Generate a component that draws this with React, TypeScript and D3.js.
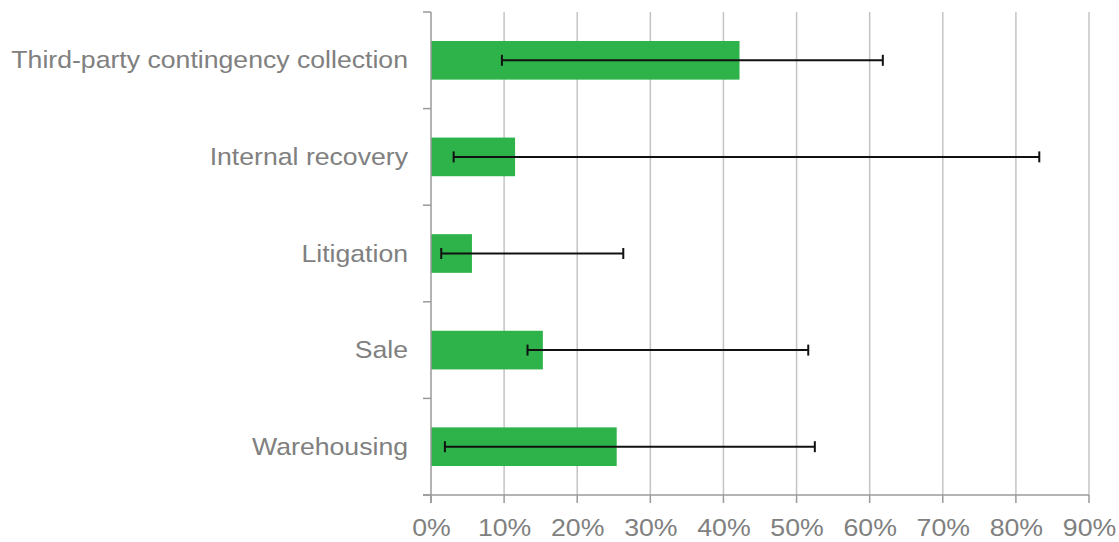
import React from "react";
import * as d3 from "d3";

const categories = [
  "Third-party contingency collection",
  "Internal recovery",
  "Litigation",
  "Sale",
  "Warehousing",
];
const values = [42.2, 11.5, 5.6, 15.3, 25.4];
const errLow = [9.7, 3.1, 1.4, 13.2, 1.9];
const errHigh = [61.8, 83.2, 26.3, 51.6, 52.5];
const xTicks = [0, 10, 20, 30, 40, 50, 60, 70, 80, 90];

const W = 1119;
const H = 542;
const M = { left: 431, right: 30, top: 12, bottom: 47 };

export default function App() {
  const x = d3.scaleLinear().domain([0, 90]).range([M.left, W - M.right]);
  const y = d3
    .scaleBand<string>()
    .domain(categories)
    .range([M.top, H - M.bottom])
    .paddingInner(0.6)
    .paddingOuter(0.3);
  const step = y.step();
  const bottom = H - M.bottom;
  const boundaries = d3.range(categories.length + 1).map((i) => M.top + i * step);
  const textColor = "#808080";
  const axisColor = "#9a9a9a";
  const gridColor = "#c4c4c4";
  const font = "'Liberation Sans', Arial, sans-serif";

  return (
    <svg
      width={W}
      height={H}
      style={{ position: "absolute", left: 0, top: 0, background: "#fff" }}
    >
      {/* grid lines */}
      {xTicks.slice(1).map((t) => (
        <line
          key={"g" + t}
          x1={x(t)}
          x2={x(t)}
          y1={M.top}
          y2={bottom}
          stroke={gridColor}
          strokeWidth={1.5}
        />
      ))}
      {/* bars */}
      {categories.map((c, i) => (
        <rect
          key={"b" + c}
          x={x(0)}
          y={y(c)}
          width={x(values[i]) - x(0)}
          height={y.bandwidth()}
          fill="#2EB34A"
        />
      ))}
      {/* y axis */}
      <line x1={x(0)} x2={x(0)} y1={M.top} y2={bottom + 8} stroke={axisColor} strokeWidth={1.5} />
      {boundaries.map((b, i) => (
        <line key={"yt" + i} x1={x(0) - 8} x2={x(0)} y1={b} y2={b} stroke={axisColor} strokeWidth={1.5} />
      ))}
      {/* x axis */}
      <line x1={x(0) - 8} x2={x(90)} y1={bottom} y2={bottom} stroke={axisColor} strokeWidth={1.5} />
      {xTicks.map((t) => (
        <line key={"xt" + t} x1={x(t)} x2={x(t)} y1={bottom} y2={bottom + 8} stroke={axisColor} strokeWidth={1.5} />
      ))}
      {xTicks.map((t) => (
        <g key={"xl" + t} transform={`translate(${x(t) + 0.5},${bottom + 41}) scale(1.09,1)`}>
          <text
            textAnchor="middle"
            fontFamily={font}
            fontSize={24.5}
            fill={textColor}
          >
            {t + "%"}
          </text>
        </g>
      ))}
      {/* category labels */}
      {categories.map((c) => (
        <g
          key={"yl" + c}
          transform={`translate(${x(0) - 23},${(y(c) as number) + y.bandwidth() / 2 + 8}) scale(1.11,1)`}
        >
          <text textAnchor="end" fontFamily={font} fontSize={24} fill={textColor}>
            {c}
          </text>
        </g>
      ))}
      {/* error bars */}
      {categories.map((c, i) => {
        const cy = (y(c) as number) + y.bandwidth() / 2;
        return (
          <g key={"e" + c} stroke="#111" strokeWidth={2}>
            <line x1={x(errLow[i])} x2={x(errHigh[i])} y1={cy} y2={cy} />
            <line x1={x(errLow[i])} x2={x(errLow[i])} y1={cy - 5.5} y2={cy + 5.5} />
            <line x1={x(errHigh[i])} x2={x(errHigh[i])} y1={cy - 5.5} y2={cy + 5.5} />
          </g>
        );
      })}
    </svg>
  );
}
